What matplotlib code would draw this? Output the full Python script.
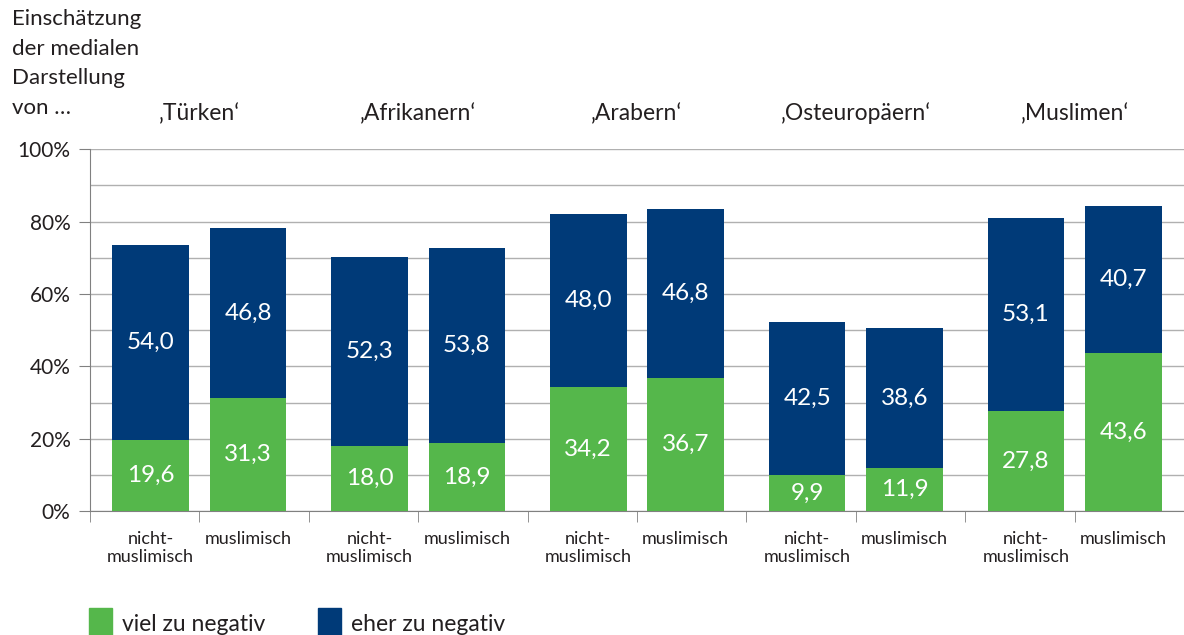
import numpy as np
import matplotlib.pyplot as plt
from matplotlib.patches import Rectangle

plt.rcParams["font.family"] = ["Lato", "DejaVu Sans"]

# data
groups = ["‚Türken‘", "‚Afrikanern‘", "‚Arabern‘", "‚Osteuropäern‘", "‚Muslimen‘"]
bar_labels = ["nicht-\nmuslimisch", "muslimisch"]
viel_nicht = [19.6, 18.0, 34.2, 9.9, 27.8]
viel_musl = [31.3, 18.9, 36.7, 11.9, 43.6]
eher_nicht = [54.0, 52.3, 48.0, 42.5, 53.1]
eher_musl = [46.8, 53.8, 46.8, 38.6, 40.7]

green = "#55b74b"
navy = "#003a78"
txt = "#231f20"

viel = [v for pair in zip(viel_nicht, viel_musl) for v in pair]
eher = [v for pair in zip(eher_nicht, eher_musl) for v in pair]
# bars of a pair sit a little closer together than the slot grid
x = np.array([2 * g + s for g in range(len(groups)) for s in (0.055, 1 - 0.055)])

fig = plt.figure(figsize=(11.84, 6.35), dpi=100)
ax = fig.add_axes([0.076, 0.195, 0.924, 0.57])

ax.bar(x, viel, width=0.7, color=green, zorder=3)
ax.bar(x, eher, width=0.7, bottom=viel, color=navy, zorder=3)

fmt = lambda v: f"{v:.1f}".replace(".", ",")
for xi, g, n in zip(x, viel, eher):
    ax.text(xi, g / 2, fmt(g), ha="center", va="center", color="white", fontsize=17.5, zorder=4)
    ax.text(xi, g + n / 2, fmt(n), ha="center", va="center", color="white", fontsize=17.5, zorder=4)

ax.set_xlim(-0.5, len(x) - 0.5)
ax.set_ylim(0, 100)
ax.set_yticks(np.arange(0, 101, 20))
ax.set_yticklabels([f"{v}%" for v in range(0, 101, 20)], fontsize=15, color=txt)
ax.set_yticks(np.arange(0, 101, 10), minor=True)
ax.grid(axis="y", which="both", color="#b0b0b0", linewidth=1, zorder=0)
ax.tick_params(axis="y", which="major", length=8, color="#808080", pad=6)
ax.tick_params(axis="y", which="minor", length=0)

# category labels under bars, group boundary ticks
ax.set_xticks(x)
ax.set_xticklabels(bar_labels * len(groups), fontsize=13, color=txt, linespacing=1.15)
ax.tick_params(axis="x", which="major", length=0, pad=14)
ax.set_xticks(np.arange(-0.5, len(x), 1.0), minor=True)
ax.tick_params(axis="x", which="minor", length=8, color="#808080")

for s in ["top", "right"]:
    ax.spines[s].set_visible(False)
for s in ["left", "bottom"]:
    ax.spines[s].set_color("#808080")

# group titles
for i, g in enumerate(groups):
    ax.text(2 * i + 0.5, 110, g, ha="center", va="center", fontsize=16.5, color=txt)

fig.text(0.01, 1 - 9 / 635, "Einschätzung\nder medialen\nDarstellung\nvon …", ha="left", va="top",
         fontsize=16, color=txt, linespacing=1.6)

# legend
fig.patches.append(Rectangle((89 / 1184, 0), 23 / 1184, 27 / 635, transform=fig.transFigure,
                             color=green))
fig.text(122 / 1184, 0.0, "viel zu negativ", fontsize=16.5, va="bottom", color=txt)
fig.patches.append(Rectangle((318 / 1184, 0), 23 / 1184, 27 / 635, transform=fig.transFigure,
                             color=navy))
fig.text(351 / 1184, 0.0, "eher zu negativ", fontsize=16.5, va="bottom", color=txt)

fig.savefig("out.png", dpi=100)
